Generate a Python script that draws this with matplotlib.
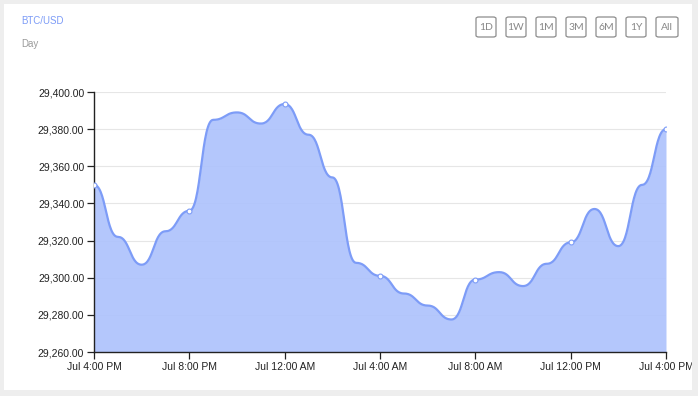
import numpy as np
import matplotlib
matplotlib.use("Agg")
import matplotlib.pyplot as plt
from matplotlib.patches import Rectangle, FancyBboxPatch
from matplotlib.ticker import FuncFormatter

# hourly BTC/USD price, Jul 4:00 PM -> next day 4:00 PM
hours = np.arange(25)
price = [29350, 29322, 29307, 29325, 29336, 29385, 29389, 29383, 29393.5,
         29377, 29354, 29308, 29301, 29291.5, 29285, 29277.5, 29299, 29303,
         29295.5, 29307.5, 29319, 29337, 29317, 29350, 29380]
tick_hours = [0, 4, 8, 12, 16, 20, 24]
tick_labels = ["Jul 4:00 PM", "Jul 8:00 PM", "Jul 12:00 AM", "Jul 4:00 AM",
               "Jul 8:00 AM", "Jul 12:00 PM", "Jul 4:00 PM"]
y_ticks = [29260, 29280, 29300, 29320, 29340, 29360, 29380, 29400]
buttons = ["1D", "1W", "1M", "3M", "6M", "1Y", "All"]

line_c = "#7d9cf7"
fill_c = "#aec3fc"


def bump(x, y, n=30):
    # horizontal-tangent bezier between points (like d3 curveBumpX)
    xs, ys = [], []
    t = np.linspace(0, 1, n, endpoint=False)
    for i in range(len(x) - 1):
        x0, x1, y0, y1 = x[i], x[i + 1], y[i], y[i + 1]
        xm = (x0 + x1) / 2
        a, b, c, d = (1 - t)**3, 3 * (1 - t)**2 * t, 3 * (1 - t) * t**2, t**3
        xs.append(a * x0 + b * xm + c * xm + d * x1)
        ys.append(a * y0 + b * y0 + c * y1 + d * y1)
    xs.append([x[-1]])
    ys.append([y[-1]])
    return np.concatenate(xs), np.concatenate(ys)


W, H = 698, 396
fig = plt.figure(figsize=(W / 100, H / 100), dpi=100)
fig.patch.set_facecolor("#eeeeee")
fig.patches.append(Rectangle((4 / W, 6 / H), 688 / W, 386 / H, transform=fig.transFigure,
                             facecolor="white", edgecolor="none", zorder=-5))

ax = fig.add_axes([94 / W, 1 - 352 / H, 572 / W, 260 / H])
ax.set_facecolor("none")

xs, ys = bump(hours, price)
ax.fill_between(xs, ys, 29260, color=fill_c, lw=0, zorder=2, alpha=0.92)
ax.plot(xs, ys, color=line_c, lw=1.6, zorder=3)
ax.plot(hours[::4], np.array(price)[::4], "o", ms=3.5, mfc="white", mec=line_c, mew=0.8, zorder=4)

ax.set_xlim(0, 24)
ax.set_ylim(29260, 29400)
ax.set_yticks(y_ticks)
ax.yaxis.set_major_formatter(FuncFormatter(lambda v, p: f"{v:,.2f}"))
ax.set_xticks(tick_hours)
ax.set_xticklabels(tick_labels)
ax.grid(axis="y", color="#e6e6e6", lw=0.8, zorder=1)
ax.set_axisbelow(True)
for sp in ["top", "right"]:
    ax.spines[sp].set_visible(False)
for sp in ["left", "bottom"]:
    ax.spines[sp].set_color("#222222")
    ax.spines[sp].set_linewidth(1.0)
ax.tick_params(length=5, width=0.9, color="#222222", labelsize=7.5, labelcolor="#222222", pad=2)
for lbl in ax.get_xticklabels() + ax.get_yticklabels():
    lbl.set_fontfamily("Liberation Sans")

# clip the last x label at the card edge
fig.patches.append(Rectangle((692 / W, 0), 6 / W, 1, transform=fig.transFigure,
                             facecolor="#eeeeee", edgecolor="none", zorder=10))

fig.text(21 / W, 1 - 21 / H, "BTC/USD", color="#7d9cf7", fontsize=7, family="Liberation Sans", va="center")
fig.text(21 / W, 1 - 44 / H, "Day", color="#9a9a9a", fontsize=7, family="Liberation Sans", va="center")

for i, b in enumerate(buttons):
    x0 = 476 + 30 * i
    w = 22 if b == "All" else 20
    box = FancyBboxPatch((x0 / W, 1 - 37 / H), w / W, 20 / H, transform=fig.transFigure,
                         boxstyle="round,pad=0,rounding_size=0.004",
                         facecolor="none", edgecolor="#8c8c8c", lw=0.9, zorder=3)
    fig.patches.append(box)
    fig.text((x0 + w / 2) / W, 1 - 27.5 / H, b, ha="center", va="center", fontsize=7.5,
             color="#888888", family="Lato", zorder=20)

fig.savefig("out.png", dpi=100, facecolor=fig.get_facecolor())
